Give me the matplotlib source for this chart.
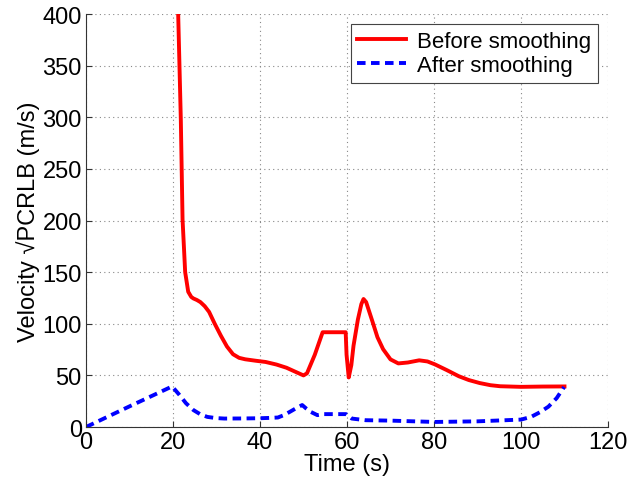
import matplotlib.pyplot as plt

plt.rcParams['font.family'] = ['Liberation Sans', 'DejaVu Sans']

# before smoothing (red)
t_before = [21.0, 21.2, 21.8, 22.2, 22.8, 23.5, 24.2, 24.7, 25.5, 26.3, 27.3, 28.3,
            29.6, 31.0, 32.4, 33.8, 35.2, 36.6, 39.0, 41.3, 43.8, 46.1, 48.4, 50.0,
            50.8, 52.6, 54.4, 59.7, 59.9, 60.4, 61.0, 61.5, 62.5, 63.3, 63.8, 64.4,
            65.9, 67.0, 68.3, 70.0, 71.8, 74.0, 76.6, 78.5, 80.2, 83.0, 85.7, 88.0,
            90.5, 93.0, 95.2, 100.0, 105.0, 110.0]
v_before = [450, 399, 298, 201, 150, 131, 126, 124.5, 123, 121, 117, 111.5,
            100, 88.5, 78, 70.5, 67, 65.6, 64.2, 63, 60.5, 57.4, 53, 50,
            52, 70, 91.8, 91.8, 70, 48, 60, 78.7, 104, 119, 124, 121,
            101.6, 87, 75.4, 65.5, 61.6, 62.5, 64.6, 63.5, 60.7, 55, 49.2, 45.5,
            42.6, 40.5, 39.5, 38.9, 39.2, 39.3]

# after smoothing (blue)
t_after = [0.0, 10.0, 19.8, 21.5, 23.0, 24.7, 26.3, 27.9, 29.8, 31.8, 36.0, 39.8,
           42.0, 44.1, 45.5, 46.9, 48.3, 49.7, 50.6, 51.6, 53.2, 54.5, 59.8, 61.1,
           64.3, 70.0, 80.2, 90.0, 100.0, 102.3, 104.3, 106.3, 108.2, 109.9]
v_after = [0.0, 20.0, 39.3, 31, 23, 16.4, 12.3, 9.8, 8.7, 8.2, 8.3, 8.5,
           8.8, 9.2, 11.5, 14.8, 18.2, 21.3, 18, 14.8, 11.5, 12.5, 12.5, 8.2,
           6.6, 6.2, 4.9, 5.5, 7.2, 9.8, 14.2, 19.7, 28, 38.7]

fig = plt.figure(figsize=(6.29, 4.89), dpi=100)
ax = fig.add_axes([0.1367, 0.1247, 0.8299, 0.8446])

ax.plot(t_before, v_before, color='red', lw=2.8, label='Before smoothing')
ax.plot(t_after, v_after, color='blue', lw=2.8, dashes=(2.2, 1.4),
        label='After smoothing')

ax.set_xlim(0, 120)
ax.set_ylim(0, 400)
ax.set_xticks(range(0, 121, 20))
ax.set_yticks(range(0, 401, 50))
ax.grid(True, linestyle=(0, (1, 3)), color='#888888', lw=0.8)

for side in ['top', 'right']:
    ax.spines[side].set_visible(False)
for side in ['left', 'bottom']:
    ax.spines[side].set_color('#333333')
ax.tick_params(direction='in', length=4, labelsize=17, colors='#333333',
               labelcolor='black', pad=3)

ax.set_xlabel('Time (s)', fontsize=17, labelpad=0)
ax.set_ylabel('Velocity \u221aPCRLB (m/s)', fontsize=17, labelpad=2)

leg = ax.legend(loc='upper right', fontsize=16, fancybox=False,
                edgecolor='#444444', framealpha=1, handlelength=2.2,
                borderaxespad=0.45, borderpad=0.3, labelspacing=0.15,
                handletextpad=0.5)
leg.get_frame().set_linewidth(0.8)

fig.savefig('out.png', dpi=100)
